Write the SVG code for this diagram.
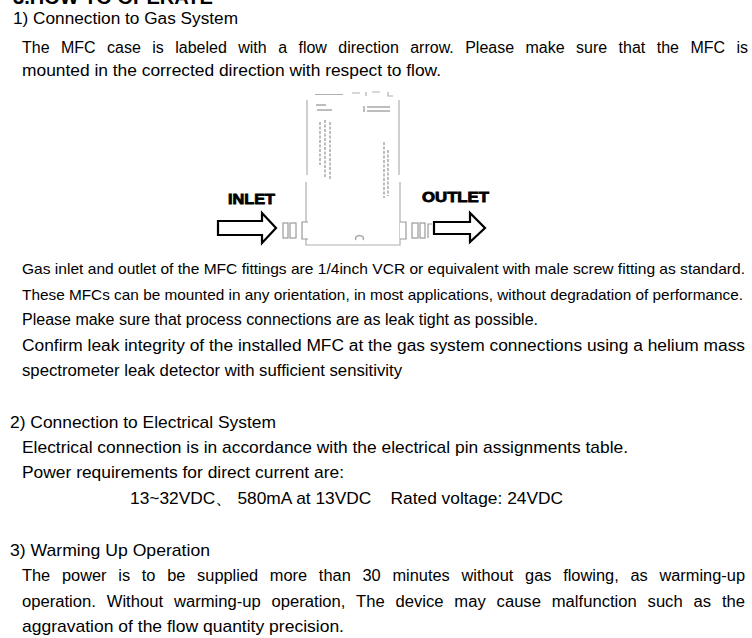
<svg xmlns="http://www.w3.org/2000/svg" width="752" height="638" viewBox="0 0 752 638">
<style>
.t{font-family:"Liberation Sans",Arial,sans-serif;font-size:16px;fill:#000}
.n{font-family:"Liberation Sans",Arial,sans-serif;font-size:17px;fill:#000}
.s{font-family:"Liberation Sans",Arial,sans-serif;font-size:15px;fill:#000}
.h{font-family:"Liberation Sans",Arial,sans-serif;font-size:20px;font-weight:bold;fill:#000}
.lbl{font-family:"Liberation Sans",Arial,sans-serif;font-size:14px;font-weight:900;fill:#000;stroke:#000;stroke-width:0.8}
.body{fill:none;stroke:#b0b0b0;stroke-width:1.2}
.fit{fill:#fff;stroke:#9a9a9a;stroke-width:1.2}
.mark{stroke:#a8a8a8;stroke-width:1.5;fill:none}
.arrow{fill:#fff;stroke:#000;stroke-width:2.2;stroke-linejoin:miter}
</style>
<rect width="752" height="638" fill="#fff"/>

<g id="text">
<text class="h" x="13" y="4" textLength="200" lengthAdjust="spacingAndGlyphs">3.HOW TO OPERATE</text>
<text class="t" x="13" y="24" textLength="225" lengthAdjust="spacingAndGlyphs">1) Connection to Gas System</text>
<text class="t" x="22" y="53" word-spacing="7" textLength="726" lengthAdjust="spacingAndGlyphs">The MFC case is labeled with a flow direction arrow. Please make sure that the MFC is</text>
<text class="t" x="22" y="76" textLength="419" lengthAdjust="spacingAndGlyphs">mounted in the corrected direction with respect to flow.</text>

<text class="s" x="22" y="274" textLength="723" lengthAdjust="spacingAndGlyphs">Gas inlet and outlet of the MFC fittings are 1/4inch VCR or equivalent with male screw fitting as standard.</text>
<text class="s" x="22" y="300" textLength="721" lengthAdjust="spacingAndGlyphs">These MFCs can be mounted in any orientation, in most applications, without degradation of performance.</text>
<text class="t" x="22" y="325" textLength="516" lengthAdjust="spacingAndGlyphs">Please make sure that process connections are as leak tight as possible.</text>
<text class="t" x="22" y="351" textLength="723" lengthAdjust="spacingAndGlyphs">Confirm leak integrity of the installed MFC at the gas system connections using a helium mass</text>
<text class="t" x="22" y="376" textLength="380" lengthAdjust="spacingAndGlyphs">spectrometer leak detector with sufficient sensitivity</text>

<text class="n" x="10" y="428" textLength="266" lengthAdjust="spacingAndGlyphs">2) Connection to Electrical System</text>
<text class="n" x="22" y="453" textLength="606" lengthAdjust="spacingAndGlyphs">Electrical connection is in accordance with the electrical pin assignments table.</text>
<text class="n" x="22" y="478" textLength="322" lengthAdjust="spacingAndGlyphs">Power requirements for direct current are:</text>
<text class="n" x="130" y="504" textLength="433" lengthAdjust="spacingAndGlyphs" xml:space="preserve">13~32VDC、 580mA at 13VDC    Rated voltage: 24VDC</text>

<text class="n" x="10" y="556" textLength="200" lengthAdjust="spacingAndGlyphs">3) Warming Up Operation</text>
<text class="t" x="22" y="581" word-spacing="7" textLength="723" lengthAdjust="spacingAndGlyphs">The power is to be supplied more than 30 minutes without gas flowing, as warming-up</text>
<text class="t" x="22" y="607" word-spacing="6" textLength="723" lengthAdjust="spacingAndGlyphs">operation. Without warming-up operation, The device may cause malfunction such as the</text>
<text class="n" x="22" y="632" textLength="322" lengthAdjust="spacingAndGlyphs">aggravation of the flow quantity precision.</text>
</g>

<g id="mfc">
<path class="body" d="M307 100 V175 M306 182 V245 H400 V182 M399 175 V100 M315 94.5 H343 M352 93 H360 M366 92 V96 M372 92 H380 M388 92 V96 H393"/>
<path class="mark" d="M316 105 H326 M317 110 H332 M364 106 V112 M367 107 H390 M367 111 H390"/>
<path class="mark" stroke-dasharray="3 1.5" d="M320 122 V165 M325 120 V178 M330 122 V180 M384 142 V198 M388 150 V196"/>
<path class="mark" d="M356 240 A4 3 0 1 1 363 240"/>
</g>

<g id="fittings">
<rect class="fit" x="283" y="223" width="5" height="15"/>
<rect class="fit" x="290" y="223" width="6" height="15"/>
<path class="fit" d="M308 222 H302 V239 H308"/>
<path class="fit" d="M400 222 H406 V239 H400"/>
<rect class="fit" x="412" y="223" width="6" height="15"/>
<rect class="fit" x="420" y="223" width="5" height="15"/>
<path class="fit" d="M428 238 V224 H432"/>
</g>

<g id="inlet">
<text class="lbl" x="228" y="204" textLength="47" lengthAdjust="spacingAndGlyphs">INLET</text>
<path class="arrow" d="M218 221 H262 V213 L276 228 L262 243 V235 H218 Z"/>
</g>

<g id="outlet">
<text class="lbl" x="422" y="202" textLength="67" lengthAdjust="spacingAndGlyphs">OUTLET</text>
<path class="arrow" d="M434 222 H470 V213 L485 228 L470 242 V234 H434 Z"/>
</g>
</svg>
